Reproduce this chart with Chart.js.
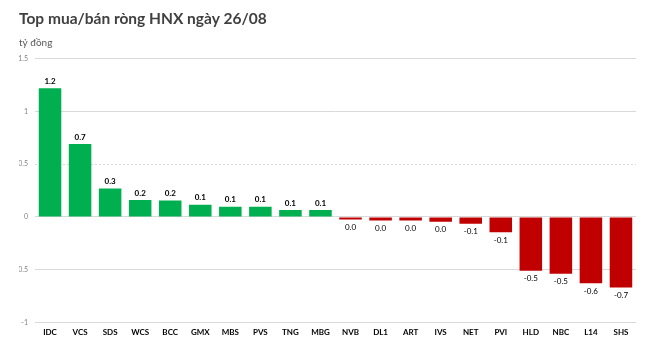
<!DOCTYPE html>
<html>
<head>
<meta charset="utf-8">
<script src="https://cdn.jsdelivr.net/npm/chart.js@4.4.0/dist/chart.umd.min.js"></script>
<style>
  html, body { margin: 0; padding: 0; background: #fff; }
  #wrap { position: relative; width: 650px; height: 353px; }
</style>
</head>
<body>
<div id="wrap"><canvas id="chart" width="650" height="353"></canvas></div>
<script>
// Net buy/sell on HNX, 26/08 (tỷ đồng)
const tickers = ['IDC', 'VCS', 'SDS', 'WCS', 'BCC', 'GMX', 'MBS', 'PVS', 'TNG', 'MBG',
                 'NVB', 'DL1', 'ART', 'IVS', 'NET', 'PVI', 'HLD', 'NBC', 'L14', 'SHS'];
const netValues = [1.22, 0.69, 0.27, 0.16, 0.155, 0.115, 0.095, 0.095, 0.065, 0.065,
                   -0.025, -0.035, -0.035, -0.045, -0.065, -0.145, -0.51, -0.54, -0.63, -0.67];
const yTicks = [-1, -0.5, 0, 0.5, 1, 1.5];

const GREEN = '#00b050';
const RED = '#c00000';
const FONT = 'Lato, "Open Sans", sans-serif';

function fmt(v) {
    const s = v.toFixed(1);
    return s === '-0.0' ? '0.0' : s;
}

// value labels above positive bars, below negative ones
const barLabels = {
    id: 'barLabels',
    afterDatasetsDraw(chart) {
        const ctx = chart.ctx;
        const meta = chart.getDatasetMeta(0);
        ctx.save();
        ctx.textAlign = 'center';
        ctx.fillStyle = '#000';
        meta.data.forEach((bar, i) => {
            const v = netValues[i];
            if (v >= 0) {
                ctx.font = 'bold 8px ' + FONT;
                ctx.textBaseline = 'bottom';
                ctx.fillText(fmt(v), bar.x, bar.y - 3);
            } else {
                ctx.font = '8px ' + FONT;
                ctx.textBaseline = 'top';
                ctx.fillText(fmt(v), bar.x, bar.y + 4);
            }
        });
        ctx.restore();
    }
};

const ctx = document.getElementById('chart').getContext('2d');
new Chart(ctx, {
    type: 'bar',
    data: {
        labels: tickers,
        datasets: [{
            data: netValues,
            backgroundColor: netValues.map(v => v >= 0 ? GREEN : RED),
            borderWidth: 0,
            barPercentage: 0.75,
            categoryPercentage: 1.0
        }]
    },
    options: {
        responsive: false,
        animation: false,
        layout: { padding: { left: 19, right: 14, top: 10, bottom: 11 } },
        plugins: {
            legend: { display: false },
            tooltip: { enabled: false },
            title: {
                display: true,
                text: 'Top mua/bán ròng HNX ngày 26/08',
                align: 'start',
                color: '#404040',
                font: { family: FONT, size: 15.5, weight: 'bold' },
                padding: { top: 0, bottom: 8 }
            },
            subtitle: {
                display: true,
                text: 'tỷ đồng',
                align: 'start',
                color: '#595959',
                font: { family: FONT, size: 10 },
                padding: { top: 0, bottom: 10 }
            }
        },
        scales: {
            x: {
                grid: { display: false, drawTicks: false },
                border: { display: false },
                ticks: {
                    color: '#000',
                    font: { family: FONT, size: 8, weight: 'bold' },
                    padding: 5,
                    maxRotation: 0,
                    autoSkip: false
                }
            },
            y: {
                min: -1,
                max: 1.5,
                afterBuildTicks: (scale) => { scale.ticks = yTicks.map(v => ({ value: v })); },
                afterFit: (scale) => { scale.width = 16; },
                grid: {
                    color: '#d9d9d9',
                    lineWidth: 1,
                    drawTicks: false
                },
                border: {
                    display: false,
                    dash: (c) => (c.tick && c.tick.value === 0.5) ? [2, 2] : []
                },
                ticks: {
                    color: '#808080',
                    font: { family: FONT, size: 7 },
                    padding: 7,
                    callback: (v) => String(v)
                }
            }
        }
    },
    plugins: [barLabels]
});
</script>
</body>
</html>
